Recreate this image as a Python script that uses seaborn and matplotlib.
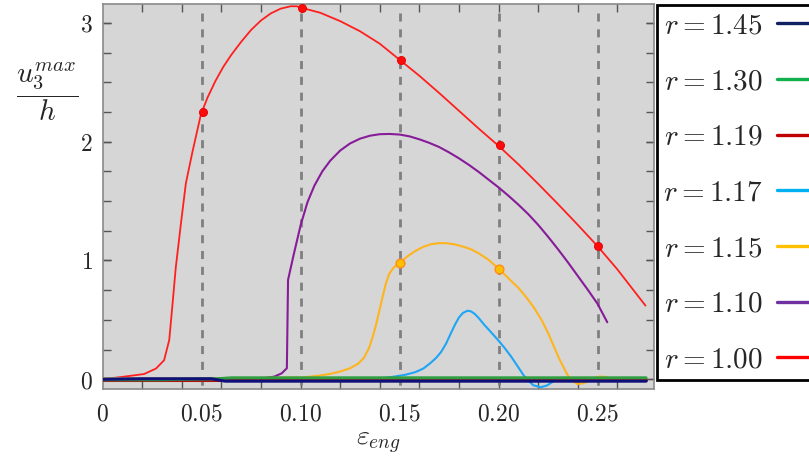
import matplotlib
matplotlib.use("Agg")
import matplotlib.pyplot as plt
from matplotlib.lines import Line2D
from matplotlib.ticker import FixedLocator
import numpy as np
import pandas as pd
import seaborn as sns

sns.set_style("ticks")
plt.rcParams['font.family'] = ['DejaVu Serif']
plt.rcParams['mathtext.fontset'] = 'cm'

# ---------------- data ----------------
x_r100 = [0.0, 0.010, 0.021, 0.027, 0.0311, 0.0337, 0.0354, 0.037, 0.0396, 0.0421,
          0.0455, 0.0497, 0.053, 0.057, 0.061, 0.065, 0.070, 0.075, 0.080, 0.085,
          0.090, 0.095, 0.098, 0.101, 0.110, 0.120, 0.130, 0.140, 0.150, 0.160,
          0.170, 0.180, 0.190, 0.200, 0.210, 0.220, 0.230, 0.240, 0.250, 0.260,
          0.2742]
y_r100 = [0.0, 0.02, 0.044, 0.09, 0.16, 0.33, 0.64, 0.94, 1.31, 1.65,
          1.92, 2.23, 2.37, 2.51, 2.63, 2.73, 2.84, 2.94, 3.02, 3.08,
          3.12, 3.14, 3.14, 3.125, 3.085, 3.015, 2.93, 2.825, 2.69, 2.555,
          2.41, 2.26, 2.11, 1.965, 1.81, 1.645, 1.475, 1.30, 1.12, 0.925,
          0.62]

x_r110 = [0.0, 0.04, 0.08, 0.0867, 0.0905, 0.0931, 0.0937, 0.0967, 0.1001, 0.1035,
          0.107, 0.111, 0.115, 0.120, 0.125, 0.130, 0.135, 0.140, 0.145, 0.150,
          0.155, 0.160, 0.165, 0.170, 0.175, 0.180, 0.185, 0.190, 0.195, 0.200,
          0.205, 0.210, 0.215, 0.220, 0.225, 0.230, 0.235, 0.240, 0.245, 0.250,
          0.2549]
y_r110 = [0.005, 0.005, 0.006, 0.022, 0.05, 0.093, 0.836, 1.06, 1.30, 1.49,
          1.63, 1.75, 1.84, 1.925, 1.985, 2.025, 2.05, 2.063, 2.065, 2.06,
          2.045, 2.02, 1.99, 1.955, 1.91, 1.86, 1.805, 1.745, 1.68, 1.615,
          1.545, 1.47, 1.39, 1.30, 1.20, 1.095, 0.985, 0.87, 0.755, 0.635,
          0.48]

x_r115 = [0.0, 0.06, 0.100, 0.105, 0.110, 0.115, 0.120, 0.125, 0.129, 0.132,
          0.1345, 0.1365, 0.138, 0.1397, 0.1414, 0.143, 0.1447, 0.147, 0.1502, 0.154,
          0.158, 0.162, 0.166, 0.170, 0.174, 0.178, 0.182, 0.186, 0.190, 0.195,
          0.2002, 0.205, 0.210, 0.214, 0.218, 0.222, 0.225, 0.228, 0.231, 0.2347,
          0.237, 0.2398, 0.2425, 0.2448, 0.2475, 0.2507, 0.254, 0.2566, 0.2745]
y_r115 = [0.008, 0.008, 0.015, 0.022, 0.032, 0.045, 0.065, 0.092, 0.13, 0.18,
          0.26, 0.36, 0.45, 0.57, 0.69, 0.80, 0.885, 0.94, 0.981, 1.035,
          1.08, 1.115, 1.137, 1.146, 1.145, 1.135, 1.117, 1.095, 1.06, 1.005,
          0.928, 0.85, 0.77, 0.69, 0.60, 0.49, 0.39, 0.274, 0.16, 0.04,
          -0.01, -0.04, -0.035, -0.02, 0.0, 0.022, 0.02, 0.008, 0.005]

x_r117 = [0.0, 0.12, 0.140, 0.1472, 0.153, 0.158, 0.162, 0.1655, 0.1685, 0.171,
          0.1735, 0.176, 0.178, 0.180, 0.182, 0.1843, 0.186, 0.188, 0.190, 0.1926,
          0.196, 0.1997, 0.203, 0.2064, 0.210, 0.2128, 0.215, 0.2175, 0.2212, 0.2245,
          0.2275, 0.2297, 0.233, 0.236, 0.242, 0.2745]
y_r117 = [0.004, 0.004, 0.006, 0.022, 0.038, 0.06, 0.09, 0.135, 0.18, 0.23,
          0.30, 0.39, 0.46, 0.52, 0.558, 0.577, 0.572, 0.55, 0.515, 0.462,
          0.40, 0.331, 0.265, 0.19, 0.10, 0.03, -0.01, -0.05, -0.067, -0.052,
          -0.02, 0.005, 0.012, 0.01, 0.0, 0.0]

x_r119 = [0.0, 0.2745]
y_r119 = [-0.006, -0.006]

x_r130 = [0.0, 0.03, 0.058, 0.065, 0.2745]
y_r130 = [-0.004, -0.004, 0.004, 0.012, 0.012]

x_r145 = [0.0, 0.02, 0.055, 0.062, 0.2745]
y_r145 = [0.0, 0.004, 0.004, -0.016, -0.016]

dots_red_x = [0.051, 0.1008, 0.1506, 0.2005, 0.2502]
dots_red_y = [2.25, 3.125, 2.69, 1.97, 1.12]
dots_orange_x = [0.1502, 0.2002]
dots_orange_y = [0.981, 0.928]

dashed_x = [0.05, 0.10, 0.15, 0.20, 0.25]

xtick_vals = [0.0, 0.05, 0.10, 0.15, 0.20, 0.25]
xtick_labels = ['$0$', '$0.05$', '$0.10$', '$0.15$', '$0.20$', '$0.25$']
ytick_vals = [0, 1, 2, 3]
ytick_labels = ['$0$', '$1$', '$2$', '$3$']

legend_labels = ['$r = 1.45$', '$r = 1.30$', '$r = 1.19$', '$r = 1.17$',
                 '$r = 1.15$', '$r = 1.10$', '$r = 1.00$']
legend_colors = ['#0f2161', '#12b04c', '#c00000', '#00b0f0', '#ffc000', '#7030a0', '#ff0000']

# ---------------- figure ----------------
fig = plt.figure(figsize=(8.09, 4.58), dpi=100)
ax = fig.add_axes([102.5 / 809, 69 / 458, 551.5 / 809, 385 / 458])
ax.set_facecolor('#d6d6d6')

for xv in dashed_x:
    ax.plot([xv, xv], [3.085, -0.085], color='#7f7f7f', lw=2.0,
            ls=(0, (2.9, 2.8)), zorder=1)

curves = [
    (x_r100, y_r100, '#ff1f1f', 1.3, 3),
    (x_r110, y_r110, '#861c98', 1.5, 3),
    (x_r115, y_r115, '#ffb41e', 1.5, 3),
    (x_r117, y_r117, '#1ea5f5', 1.5, 3),
    (x_r119, y_r119, '#b01010', 2.2, 4),
    (x_r130, y_r130, '#2f9f3f', 2.2, 4),
    (x_r145, y_r145, '#10107a', 2.2, 4),
]
for xs, ys, c, lw, z in curves:
    sns.lineplot(x=xs, y=ys, ax=ax, color=c, lw=lw, sort=False,
                 estimator=None, legend=False, zorder=z)

sns.scatterplot(x=dots_red_x, y=dots_red_y, ax=ax, color='#ff0a0a', s=34,
                edgecolor='#e00000', linewidth=0.6, zorder=6, legend=False)
sns.scatterplot(x=dots_orange_x, y=dots_orange_y, ax=ax, color='#ffc000', s=40,
                edgecolor='#ff8c1a', linewidth=1.0, zorder=6, legend=False)

ax.set_xlim(0.0, 0.2785)
ax.set_ylim(-0.082, 3.159)

ax.set_xticks(xtick_vals, xtick_labels)
ax.xaxis.set_minor_locator(FixedLocator([0.02 * i for i in range(1, 14)]))
ax.xaxis.remove_overlapping_locs = False
ax.tick_params(axis='x', which='major', length=0, pad=10, labelsize=17)
ax.tick_params(axis='x', which='minor', direction='in', length=6, width=1.0,
               top=True, bottom=True, color='#555555')

ax.set_yticks(ytick_vals, ytick_labels)
ax.yaxis.set_minor_locator(FixedLocator([0.25 * i for i in range(0, 13)]))
ax.yaxis.remove_overlapping_locs = False
ax.tick_params(axis='y', which='both', direction='in', length=6, width=1.0,
               left=True, right=True, color='#555555')
ax.tick_params(axis='y', which='major', labelsize=17, pad=7)

for s in ax.spines.values():
    s.set_color('#8a8a8a')
    s.set_linewidth(1.2)

ax.set_xlabel(r'$\varepsilon_{eng}$', fontsize=20, labelpad=2)
ax.set_ylabel('')
fig.text(47 / 809, 1 - 92 / 458, r'$\dfrac{u_3^{max}}{h}$', fontsize=21,
         ha='center', va='center')

handles = [Line2D([0], [0], color=c, lw=2.4) for c in legend_colors]
leg = fig.legend(handles, legend_labels, loc='upper left',
                 bbox_to_anchor=(657 / 809, 1 - 5 / 458), markerfirst=False,
                 frameon=True, fancybox=False, edgecolor='black', facecolor='white',
                 framealpha=1, fontsize=21, handlelength=2.2, handletextpad=0.5,
                 borderpad=0.22, labelspacing=0.95, borderaxespad=0)
leg.get_frame().set_linewidth(2.0)

fig.savefig('out.png', dpi=100)
